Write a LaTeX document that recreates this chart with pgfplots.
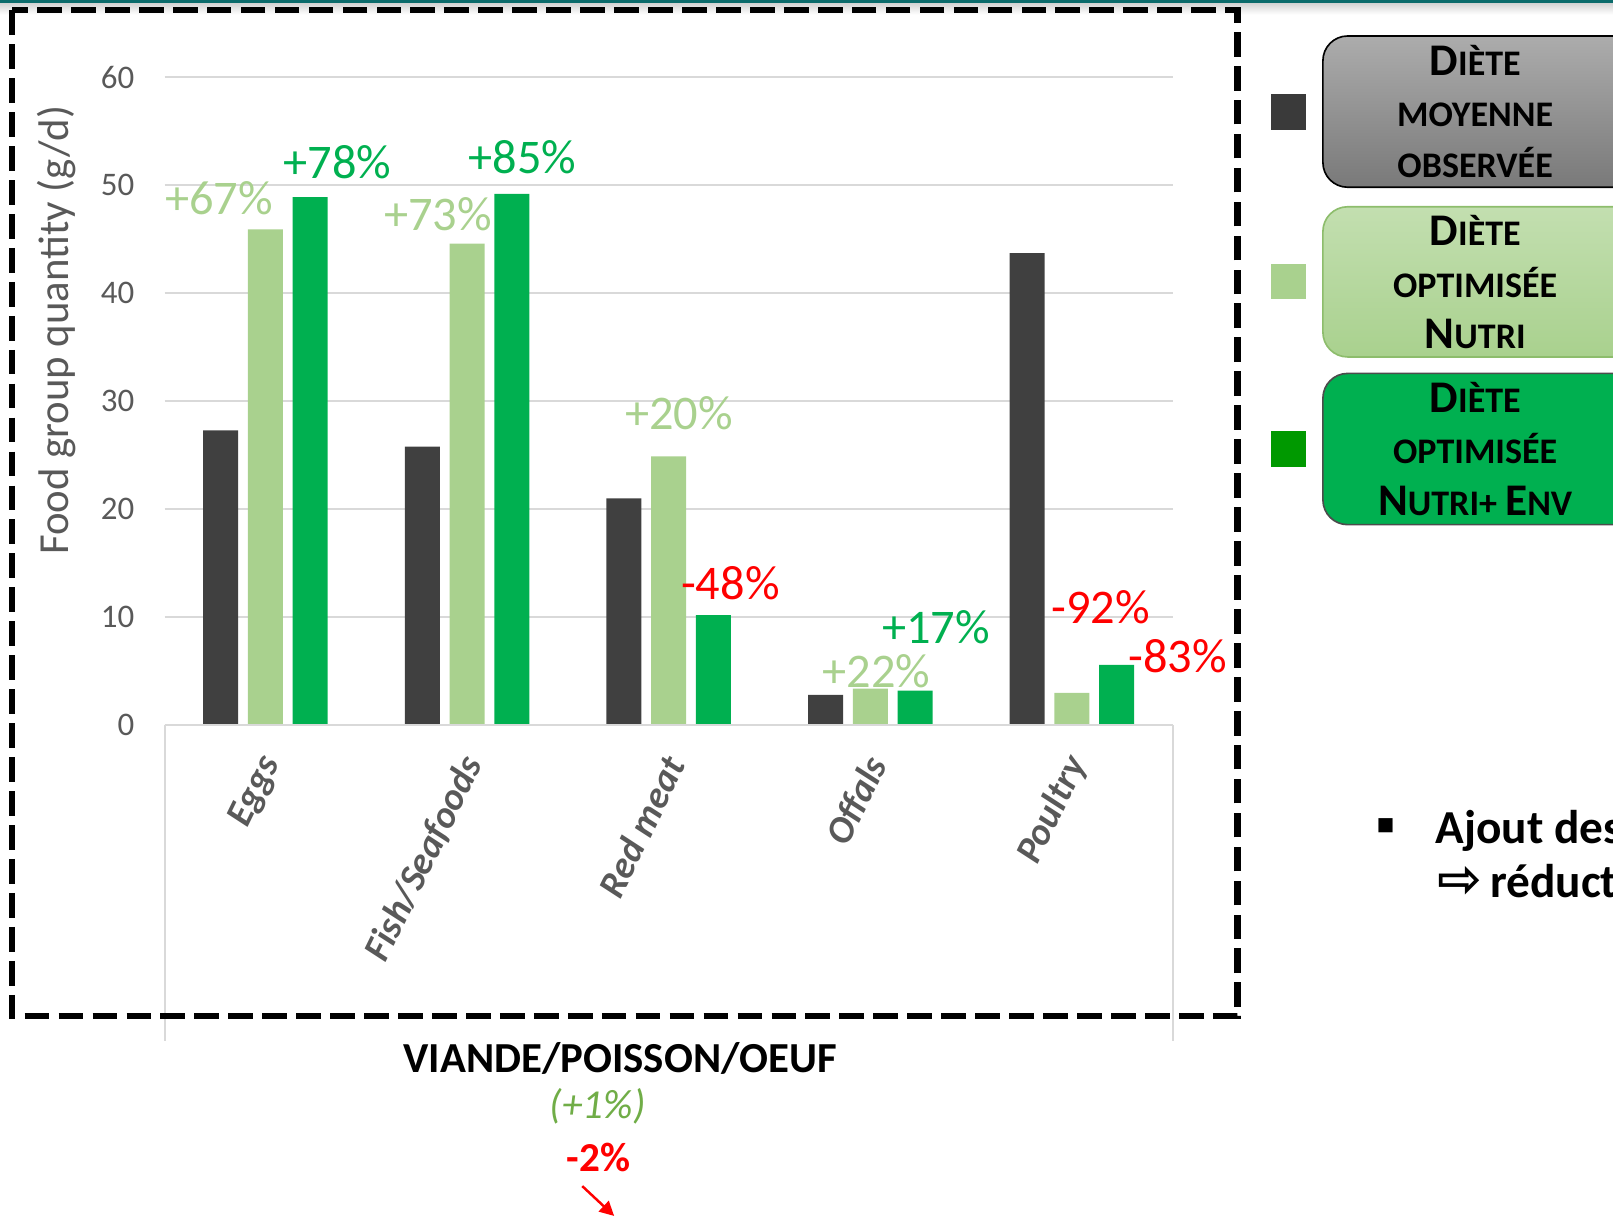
\documentclass[border=0pt]{standalone}
\usepackage{pgfplots}
\pgfplotsset{compat=1.18}
\usepackage{fontspec}
\setmainfont{Carlito}
\newfontfamily\djv{DejaVu Sans}
\usetikzlibrary{arrows.meta}

\definecolor{darkbar}{HTML}{404040}
\definecolor{nutri}{HTML}{A9D18E}
\definecolor{env}{HTML}{00B050}
\definecolor{txtgray}{HTML}{595959}
\definecolor{gridgray}{HTML}{D9D9D9}
\definecolor{legdark}{HTML}{3A3A3A}
\definecolor{leggreen}{HTML}{009900}
\definecolor{pctred}{HTML}{FF0000}
\definecolor{olive}{HTML}{70AD47}
\definecolor{tealbar}{HTML}{0B6B6B}

% fake small caps: big first letter, smaller rest
\newcommand\bigc[1]{{\fontsize{22}{26}\selectfont #1}}
\newcommand\smc[1]{{\fontsize{17.5}{21}\selectfont #1}}

\pgfplotstableread{
x   obs   nutri  env
0   27.3  45.9   48.9
1   25.8  44.6   49.2
2   21.0  24.9   10.2
3   2.8   3.4    3.2
4   43.7  3.0    5.6
}\data

\begin{document}
\begin{tikzpicture}
\useasboundingbox (0,0) rectangle (784pt,-591pt);

\begin{axis}[
    at={(80pt,-352.5pt)}, anchor=south west,
    scale only axis, width=490pt, height=315pt,
    xmin=-0.5, xmax=4.5, ymin=0, ymax=60,
    ybar=0pt, bar width=17pt,
    xtick={0,...,4},
    xticklabels={Eggs,Fish/Seafoods,Red meat,Offals,Poultry},
    ytick={0,10,...,60},
    ymajorgrids, grid style={draw=gridgray, line width=1pt},
    axis line style={draw=none}, tick style={draw=none},
    /pgf/number format/assume math mode=true,
    yticklabel style={font=\fontsize{16}{19}\selectfont, text=txtgray,
        anchor=east, inner sep=0pt, xshift=-14.5pt},
    xticklabel style={font=\fontsize{18.5}{22}\selectfont\bfseries\itshape,
        text=txtgray, xshift=3pt, yshift=-12pt, rotate=64, anchor=east,
        inner sep=0pt},
    clip=false,
]
\addplot[fill=darkbar, draw=none, bar shift=-21.75pt] table[x=x, y=obs] {\data};
\addplot[fill=nutri, draw=none, bar shift=0pt] table[x=x, y=nutri] {\data};
\addplot[fill=env, draw=none, bar shift=21.75pt] table[x=x, y=env] {\data};
\end{axis}

\begin{scope}[x=0.5pt, y=-0.5pt]
% slide header line
\shade[top color=gray!35, bottom color=white] (0,3) rectangle (1568,14);
\fill[tealbar] (0,0) rectangle (1568,3);

% axis line and category separators
\draw[gridgray, line width=1pt] (160,705) -- (1140,705);
\draw[gridgray, line width=1pt] (160,705) -- (160,1012);
\draw[gridgray, line width=1pt] (1140,705) -- (1140,1012);

% y label
\node[rotate=90, font=\fontsize{20.8}{25}\selectfont, text=txtgray] at (55,321) {Food group quantity (g/d)};

% percentage labels
\begin{scope}[every node/.style={font=\fontsize{23.5}{28}\selectfont, inner sep=0pt}]
\node[text=nutri] at (213,193) {+67\%};
\node[text=env]   at (328,158) {+78\%};
\node[text=nutri] at (426,208) {+73\%};
\node[text=env]   at (508,153) {+85\%};
\node[text=nutri] at (660,402) {+20\%};
\node[text=pctred] at (710,567) {-48\%};
\node[text=env]   at (910,610) {+17\%};
\node[text=nutri] at (852,652) {+22\%};
\node[text=pctred] at (1070,590) {-92\%};
\node[text=pctred] at (1145,638) {-83\%};
\end{scope}

% dashed frame
\draw[line width=3pt, dash pattern=on 12pt off 4.5pt] (12,10) rectangle (1203,988);

% bottom texts
\node[font=\fontsize{20.8}{25}\selectfont\bfseries, anchor=base] at (603,1043) {VIANDE/POISSON/OEUF};
\node[font=\fontsize{20}{24}\selectfont\itshape, text=olive, anchor=base] at (581,1087) {(+1\%)};
\node[font=\fontsize{20}{24}\selectfont\bfseries, text=pctred, anchor=base] at (582,1139) {-2\%};
\draw[pctred, line width=1.2pt, -{Triangle[length=7pt,width=7pt]}] (566,1153) -- (597,1182);

% legend
\fill[legdark] (1236,91) rectangle (1270,126);
\fill[nutri] (1236,257) rectangle (1270,291);
\fill[leggreen] (1236,419) rectangle (1270,454);

\shade[top color=gray!65, bottom color=gray!95!black, draw=black, line width=0.8pt, rounded corners=12pt]
  (1286,35) rectangle (1640,182);
\shade[top color=nutri!70!white, bottom color=nutri, draw=olive!80, line width=0.8pt, rounded corners=12pt]
  (1286,201) rectangle (1640,347);
\fill[env, draw=black!70, line width=0.8pt, rounded corners=12pt]
  (1286,363) rectangle (1640,510);

\begin{scope}[every node/.style={anchor=base, inner sep=0pt, font=\bfseries}]
\node at (1434,73)  {\bigc{D}\smc{IÈTE}};
\node at (1434,123) {\smc{MOYENNE}};
\node at (1434,173) {\smc{OBSERVÉE}};
\node at (1434,239) {\bigc{D}\smc{IÈTE}};
\node at (1434,289) {\smc{OPTIMISÉE}};
\node at (1434,339) {\bigc{N}\smc{UTRI}};
\node at (1434,401) {\bigc{D}\smc{IÈTE}};
\node at (1434,451) {\smc{OPTIMISÉE}};
\node at (1434,501) {\bigc{N}\smc{UTRI+ }\bigc{E}\smc{NV}};
\end{scope}

% side text
\node[font=\fontsize{9}{10}\djv, inner sep=0pt] at (1347,803) {■};
\node[font=\fontsize{23}{27}\selectfont\bfseries, anchor=base west, inner sep=0pt] at (1395,820) {Ajout des};
\node[font=\fontsize{23}{27}\selectfont\bfseries, anchor=base west, inner sep=0pt] at (1397,872) {{\djv\fontsize{26}{30}\selectfont ⇨}\,réduct};
\end{scope}
\end{tikzpicture}
\end{document}
